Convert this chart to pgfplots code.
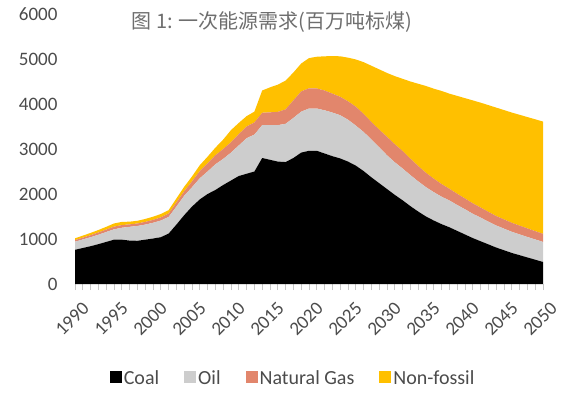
\documentclass[border=0pt]{standalone}
\usepackage{pgfplots}
\pgfplotsset{compat=1.18}
\usepackage{pgfplotstable}
\usepackage{fontspec}
\setmainfont{Carlito}
\newfontfamily\cjk{Noto Sans CJK SC}
\definecolor{coalc}{RGB}{0,0,0}
\definecolor{oilc}{RGB}{205,205,205}
\definecolor{gasc}{RGB}{226,134,108}
\definecolor{nfc}{RGB}{255,192,0}
\definecolor{txt}{RGB}{75,75,75}
\definecolor{ttl}{RGB}{110,110,110}

\pgfplotstableread{
year coal oil gas nf
1990 760 180 35 40
1991 800 190 40 45
1992 840 200 45 50
1993 885 210 50 55
1994 935 220 55 60
1995 985 230 60 70
1996 985 265 60 70
1997 965 305 55 60
1998 960 330 55 60
1999 985 335 60 65
2000 1010 350 65 70
2001 1040 370 70 75
2002 1120 370 75 75
2003 1320 400 90 90
2004 1530 430 100 100
2005 1720 430 130 110
2006 1880 470 160 130
2007 2000 500 180 150
2008 2090 570 200 170
2009 2200 580 220 210
2010 2300 620 230 270
2011 2400 680 250 250
2012 2450 790 260 230
2013 2500 820 270 240
2014 2800 730 275 495
2015 2760 770 285 555
2016 2720 810 295 605
2017 2710 850 320 640
2018 2800 890 390 620
2019 2920 910 450 620
2020 2960 940 450 670
2021 2960 940 445 705
2022 2900 960 440 760
2023 2840 970 420 835
2024 2790 960 410 900
2025 2720 930 410 970
2026 2630 890 420 1050
2027 2510 870 400 1150
2028 2370 840 390 1250
2029 2240 800 390 1340
2030 2110 750 410 1420
2031 1980 725 400 1515
2032 1860 705 390 1605
2033 1730 690 365 1715
2034 1610 670 340 1830
2035 1500 650 320 1930
2036 1410 630 300 2000
2037 1330 610 280 2070
2038 1260 595 260 2115
2039 1180 575 250 2175
2040 1100 560 240 2230
2041 1020 540 232 2288
2042 950 525 225 2330
2043 880 505 218 2372
2044 810 490 210 2410
2045 750 480 205 2430
2046 690 470 200 2450
2047 640 462 195 2463
2048 590 455 190 2475
2049 540 450 185 2485
2050 490 445 180 2495
}\energy

\begin{document}
\begin{tikzpicture}
\path[use as bounding box] (0,0) rectangle (565pt,394pt);
\begin{axis}[
  at={(75pt,110pt)}, anchor=south west,
  scale only axis, width=468pt, height=270pt,
  xmin=1990, xmax=2050, ymin=0, ymax=6000,
  stack plots=y,
  axis line style={draw=none},
  xtick={1990,1995,...,2050},
  minor x tick num=4,
  xtick pos=left, ytick pos=left,
  xtick align=outside,
  ytick={0,1000,...,6000},
  tick style={color=black!22, line width=0.9pt},
  ytick style={draw=none},
  major tick length=6pt, minor tick length=6pt,
  /pgf/number format/assume math mode=true,
  /pgf/number format/1000 sep={},
  ticklabel style={font=\fontsize{19}{23}\selectfont, text=txt},
  xticklabel style={rotate=45, anchor=center, yshift=-18.5pt, xshift=-22.5pt},
  yticklabel style={xshift=-14pt},
  legend columns=4,
  legend cell align=left,
  legend style={at={(0.466,-0.348)}, anchor=center, draw=none, fill=none,
    font=\fontsize{20}{24}\selectfont, text=txt,
    /tikz/every even column/.append style={column sep=23pt}},
  legend image code/.code={\fill[#1] (0pt,-5pt) rectangle (12pt,7pt);},
]
\addplot[fill=coalc, draw=none] table[x=year, y=coal]{\energy} \closedcycle;
\addlegendentry{Coal}
\addplot[fill=oilc, draw=none] table[x=year, y=oil]{\energy} \closedcycle;
\addlegendentry{Oil}
\addplot[fill=gasc, draw=none] table[x=year, y=gas]{\energy} \closedcycle;
\addlegendentry{Natural Gas}
\addplot[fill=nfc, draw=none] table[x=year, y=nf]{\energy} \closedcycle;
\addlegendentry{Non-fossil}
\end{axis}
\node[text=ttl, anchor=center] at (272pt,372pt) {\cjk\fontsize{20}{22}\selectfont 图 1: 一次能源需求(百万吨标煤)};
\end{tikzpicture}
\end{document}
